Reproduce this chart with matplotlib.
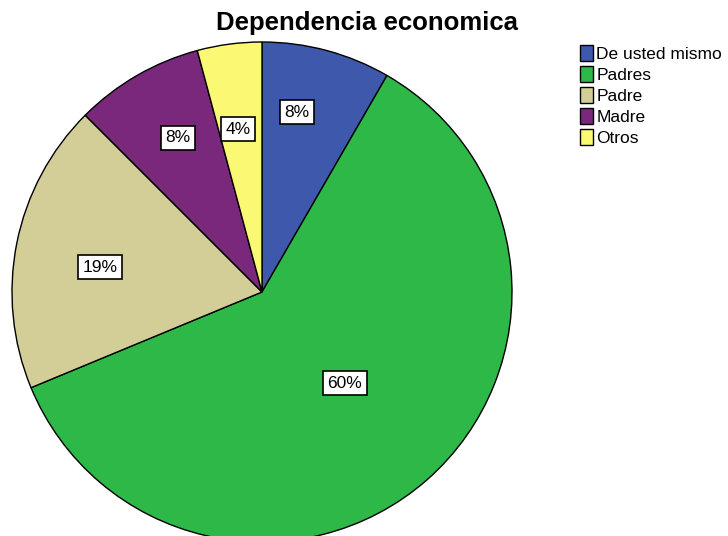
import matplotlib
matplotlib.use("Agg")
import matplotlib.pyplot as plt
import numpy as np

categories = ["De usted mismo", "Padres", "Padre", "Madre", "Otros"]
counts = [4, 29, 9, 4, 2]
pct_labels = ["8%", "60%", "19%", "8%", "4%"]
colors = ["#3E58AC", "#2EB848", "#D3CE97", "#79287C", "#FBF873"]

# label placement (radius fraction, angle shift in degrees from slice middle)
label_r = [0.733, 0.493, 0.656, 0.702, 0.659]
label_dang = [4.0, 1.0, 2.5, -1.4, 0.9]

plt.rcParams["font.family"] = ["Liberation Sans", "DejaVu Sans"]

fig = plt.figure(figsize=(7.28, 5.36), dpi=100)
ax = fig.add_axes([12 / 728, -6 / 536, 500 / 728, 500 / 536])
wedges, _ = ax.pie(counts, colors=colors, startangle=90, counterclock=False,
                   radius=1, wedgeprops=dict(edgecolor="black", linewidth=1))
ax.set_xlim(-1, 1)
ax.set_ylim(-1, 1)
ax.axis("off")

for w, lab, r, da in zip(wedges, pct_labels, label_r, label_dang):
    mid = np.deg2rad((w.theta1 + w.theta2) / 2 + da)
    ax.text(r * np.cos(mid), r * np.sin(mid), lab, ha="center", va="center",
            fontsize=12.5,
            bbox=dict(boxstyle="square,pad=0.25", fc="white", ec="black", lw=1.2))

fig.text(367 / 728, 1 - 23 / 536, "Dependencia economica", ha="center",
         va="center", fontsize=18.5, fontweight="bold")

fig.legend(wedges, categories, loc="upper left",
           bbox_to_anchor=(580 / 728, 1 - 45 / 536), frameon=False,
           fontsize=12.5, handlelength=0.75, handleheight=1.0,
           handletextpad=0.2, labelspacing=0.25, borderaxespad=0,
           borderpad=0)

fig.savefig("out.png", dpi=100)
